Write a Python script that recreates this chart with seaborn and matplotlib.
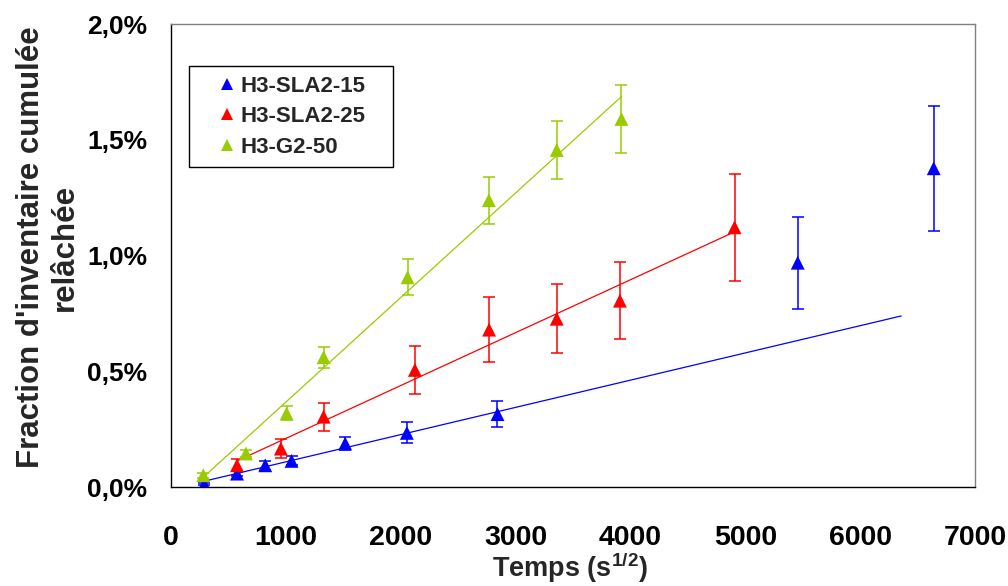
import numpy as np
import pandas as pd
import matplotlib
matplotlib.use("Agg")
import matplotlib.pyplot as plt
from matplotlib.ticker import FuncFormatter, MultipleLocator
from matplotlib.lines import Line2D
from matplotlib.patches import Rectangle
import seaborn as sns

SERIES = ["H3-SLA2-15", "H3-SLA2-25", "H3-G2-50"]
COLORS = {"H3-SLA2-15": "#0000FF", "H3-SLA2-25": "#FF0000", "H3-G2-50": "#99CC00"}

# temps (s^1/2), fraction relachee (%), barre d'erreur (%)
X_SLA15 = [290, 575, 821, 1050, 1517, 2054, 2843, 5457, 6641]
Y_SLA15 = [0.012, 0.058, 0.094, 0.113, 0.188, 0.234, 0.315, 0.969, 1.377]
E_SLA15 = [0.005, 0.01, 0.02, 0.02, 0.03, 0.045, 0.057, 0.199, 0.27]

X_SLA25 = [575, 957, 1329, 2124, 2770, 3359, 3909, 4907]
Y_SLA25 = [0.094, 0.166, 0.304, 0.506, 0.680, 0.727, 0.805, 1.122]
E_SLA25 = [0.025, 0.04, 0.06, 0.103, 0.139, 0.148, 0.167, 0.232]

X_G50 = [281, 653, 1007, 1329, 2060, 2768, 3359, 3922]
Y_G50 = [0.051, 0.145, 0.318, 0.561, 0.906, 1.239, 1.456, 1.590]
E_G50 = [0.01, 0.017, 0.03, 0.045, 0.078, 0.101, 0.127, 0.145]

# regression lineaire : nb de points utilises, fin de la droite
FIT_N = [7, 8, 8]
FIT_END = [6358, 4907, 3922]

X_TICKS = [0, 1000, 2000, 3000, 4000, 5000, 6000, 7000]

data = {
    "H3-SLA2-15": (X_SLA15, Y_SLA15, E_SLA15),
    "H3-SLA2-25": (X_SLA25, Y_SLA25, E_SLA25),
    "H3-G2-50": (X_G50, Y_G50, E_G50),
}
df = pd.concat([
    pd.DataFrame({"serie": s, "temps": v[0], "frac": v[1], "err": v[2]})
    for s, v in data.items()
], ignore_index=True)

sns.set_style("white")
plt.rcParams["font.family"] = ["Liberation Sans", "DejaVu Sans"]
plt.rcParams["font.weight"] = "bold"
plt.rcParams["mathtext.fontset"] = "custom"
plt.rcParams["mathtext.rm"] = "Liberation Sans:bold"
plt.rcParams["mathtext.it"] = "Liberation Sans:bold"
plt.rcParams["mathtext.bf"] = "Liberation Sans:bold"

fig = plt.figure(figsize=(10.08, 5.86), dpi=100)
ax = fig.add_axes([0.1696, 0.1689, 0.7976, 0.7901])

for i, s in enumerate(SERIES):
    sub = df[df["serie"] == s]
    c = COLORS[s]
    ax.errorbar(sub["temps"], sub["frac"], yerr=sub["err"], fmt="none", ecolor=c,
                elinewidth=1.1, capsize=4.3, capthick=1.1, zorder=2)
    n = FIT_N[i]
    a, b = np.polyfit(sub["temps"].values[:n], sub["frac"].values[:n], 1)
    xs = np.array([sub["temps"].values[0], FIT_END[i]])
    sns.lineplot(x=xs, y=a * xs + b, color=c, linewidth=0.9, ax=ax, zorder=2)

sns.scatterplot(data=df, x="temps", y="frac", hue="serie", palette=COLORS,
                marker="^", s=100, linewidth=0, legend=False, ax=ax, zorder=3)

ax.set_xlim(0, 7000)
ax.set_ylim(0, 2.0)
ax.set_xticks(X_TICKS)
ax.yaxis.set_major_locator(MultipleLocator(0.5))
ax.yaxis.set_major_formatter(FuncFormatter(lambda v, p: f"{v:.1f}%".replace(".", ",")))
ax.tick_params(axis="x", direction="out", length=6, width=1, pad=21, labelsize=20.5, colors="black")
ax.tick_params(axis="y", direction="out", length=6, width=1, pad=11, labelsize=19, colors="black")
for lab in ax.get_xticklabels() + ax.get_yticklabels():
    lab.set_fontweight("bold")

ax.spines["left"].set_color("black")
ax.spines["bottom"].set_color("black")
ax.spines["top"].set_color("#808080")
ax.spines["right"].set_color("#808080")
for sp in ax.spines.values():
    sp.set_linewidth(1.0)
    sp.set_visible(True)

ax.set_xlabel(r"Temps (s$^{1/2}$)", fontsize=19.5, fontweight="bold", va="center")
ax.xaxis.set_label_coords(0.496, -0.175)
ax.set_ylabel("Fraction d'inventaire cumulée\nrelâchée", fontsize=22.5, fontweight="bold",
              va="center", linespacing=1.15)
ax.yaxis.set_label_coords(-0.153, 0.518)

# legende
fig.patches.append(Rectangle((189 / 1008, 1 - 167 / 586), 204 / 1008, 101 / 586,
                             transform=fig.transFigure, fill=False,
                             edgecolor="black", linewidth=1.0))
handles = [Line2D([], [], marker="^", linestyle="none", color=COLORS[s],
                  markersize=8.5, markeredgewidth=0) for s in SERIES]
fig.legend(handles, SERIES, loc="center left", bbox_to_anchor=(0.2143, 0.8009),
           frameon=False, borderpad=0, borderaxespad=0, handlelength=1.0,
           handletextpad=0.1, labelspacing=0.42,
           prop={"family": "Liberation Sans", "weight": "bold", "size": 16})

fig.savefig("out.png", dpi=100, facecolor="white")
